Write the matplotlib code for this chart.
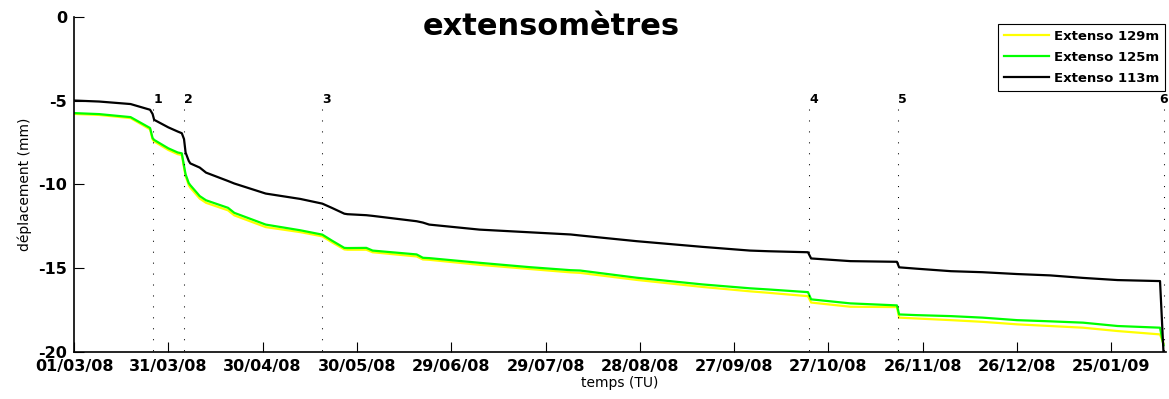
import matplotlib
matplotlib.use('Agg')
import matplotlib.pyplot as plt
import matplotlib.dates as mdates
import numpy as np
import pandas as pd

plt.rcParams['axes.unicode_minus'] = False

# jours depuis le 01/03/08
start = pd.Timestamp('2008-03-01')
days = [0, 8, 18, 24.2, 25, 25.5, 30, 33, 34.3, 35, 35.5, 36.5, 37, 40, 42, 49, 51,
        61, 72, 79, 82, 86, 87, 93, 95, 109, 111, 113, 129, 145, 158, 161, 179, 200,
        215, 221, 233.5, 234.5, 247, 261.8, 262.5, 268, 279, 289, 300, 310.5, 321,
        332, 345.5, 346.6]

depl_113 = [-5.0, -5.06, -5.21, -5.55, -5.8, -6.15, -6.6, -6.85, -6.95, -7.3, -8.1,
            -8.6, -8.75, -9.0, -9.3, -9.8, -9.95, -10.55, -10.87, -11.15, -11.4,
            -11.75, -11.78, -11.84, -11.88, -12.2, -12.28, -12.4, -12.7, -12.86,
            -12.99, -13.05, -13.39, -13.73, -13.95, -13.99, -14.05, -14.42, -14.58,
            -14.62, -14.95, -15.03, -15.18, -15.24, -15.35, -15.43, -15.58, -15.71,
            -15.77, -20.0]

depl_125 = [-5.75, -5.81, -5.99, -6.64, -7.24, -7.35, -7.85, -8.1, -8.15, -8.9, -9.4,
            -9.92, -10.05, -10.7, -10.95, -11.4, -11.7, -12.4, -12.74, -13.0, -13.35,
            -13.79, -13.8, -13.79, -13.95, -14.18, -14.38, -14.4, -14.68, -14.94,
            -15.12, -15.14, -15.57, -15.97, -16.2, -16.27, -16.43, -16.86, -17.1,
            -17.22, -17.76, -17.8, -17.86, -17.95, -18.1, -18.17, -18.25, -18.45,
            -18.55, -19.6]

depl_129 = [-5.8, -5.86, -6.05, -6.72, -7.32, -7.44, -7.95, -8.2, -8.25, -9.0, -9.5,
            -10.05, -10.2, -10.85, -11.1, -11.55, -11.85, -12.55, -12.85, -13.1,
            -13.45, -13.88, -13.9, -13.9, -14.05, -14.3, -14.48, -14.5, -14.8, -15.05,
            -15.25, -15.28, -15.7, -16.12, -16.38, -16.47, -16.67, -17.05, -17.3,
            -17.32, -17.95, -18.0, -18.1, -18.2, -18.35, -18.45, -18.55, -18.75,
            -18.95, -19.5]

event_days = [25.2, 34.9, 78.9, 233.9, 262.1, 346.8]
event_labels = ['1', '2', '3', '4', '5', '6']

tick_days = [0, 30, 60, 90, 120, 150, 180, 210, 240, 270, 300, 330]
xmax_day = 347.4

t = start + pd.to_timedelta(days, unit='D')
t_events = start + pd.to_timedelta(event_days, unit='D')
t_ticks = start + pd.to_timedelta(tick_days, unit='D')

W, H = 1169, 399
fig = plt.figure(figsize=(W/100, H/100), dpi=100)
ax = fig.add_axes([74/W, 1 - 352/H, (1166 - 74)/W, (352 - 16.7)/H])

ax.plot(t, depl_129, color=(1, 1, 0), lw=1.6, label='Extenso 129m')
ax.plot(t, depl_125, color=(0, 1, 0), lw=1.6, label='Extenso 125m')
ax.plot(t, depl_113, color='k', lw=1.6, label='Extenso 113m')

# lignes d'evenements
for i, (te, lab) in enumerate(zip(t_events, event_labels)):
  ax.plot([te, te], [-5.5, -20], color='k', lw=0.75, ls=(0, (1, 9.5)), clip_on=False)
  # le dernier numero est colle au bord droit
  ha = 'right' if i == len(event_labels) - 1 else 'left'
  tx = te + pd.Timedelta(days=1.3) if ha == 'right' else te
  ax.text(tx, -4.96, lab, ha=ha, va='center', fontsize=9, fontweight='bold',
          family='DejaVu Sans', clip_on=False)

ax.set_xlim(start, start + pd.Timedelta(days=xmax_day))
ax.set_ylim(-20, 0)
ax.set_yticks([-20, -15, -10, -5, 0])
ax.set_xticks(t_ticks)
ax.xaxis.set_major_formatter(mdates.DateFormatter('%d/%m/%y'))

for side in ['top', 'right']:
  ax.spines[side].set_visible(False)
for side in ['left', 'bottom']:
  ax.spines[side].set_linewidth(1.2)

ax.tick_params(direction='in', length=7, width=0.8, pad=5)
for lbl in ax.get_xticklabels() + ax.get_yticklabels():
  lbl.set_fontweight('bold')
  lbl.set_fontsize(11.5)
  lbl.set_family('DejaVu Sans')

ax.set_ylabel('déplacement (mm)', fontsize=10, family='DejaVu Sans')
ax.yaxis.set_label_coords(-0.0385, 0.5)
ax.set_xlabel('temps (TU)', fontsize=10, family='DejaVu Sans')
ax.xaxis.set_label_coords(0.5, -0.072)

fig.text(551/W, 1 - 35/H, 'extensomètres', ha='center', va='baseline',
         fontsize=22, fontweight='bold', family='DejaVu Sans')

leg = ax.legend(loc='upper right', bbox_to_anchor=(1165/W, 1 - 24/H),
                bbox_transform=fig.transFigure, borderaxespad=0, fancybox=False,
                framealpha=1, edgecolor='k', handlelength=3.4, handletextpad=0.4,
                labelspacing=0.6, borderpad=0.45,
                prop={'family': 'DejaVu Sans', 'weight': 'bold', 'size': 9.5})
leg.get_frame().set_linewidth(0.8)

fig.savefig('out.png', dpi=100)
